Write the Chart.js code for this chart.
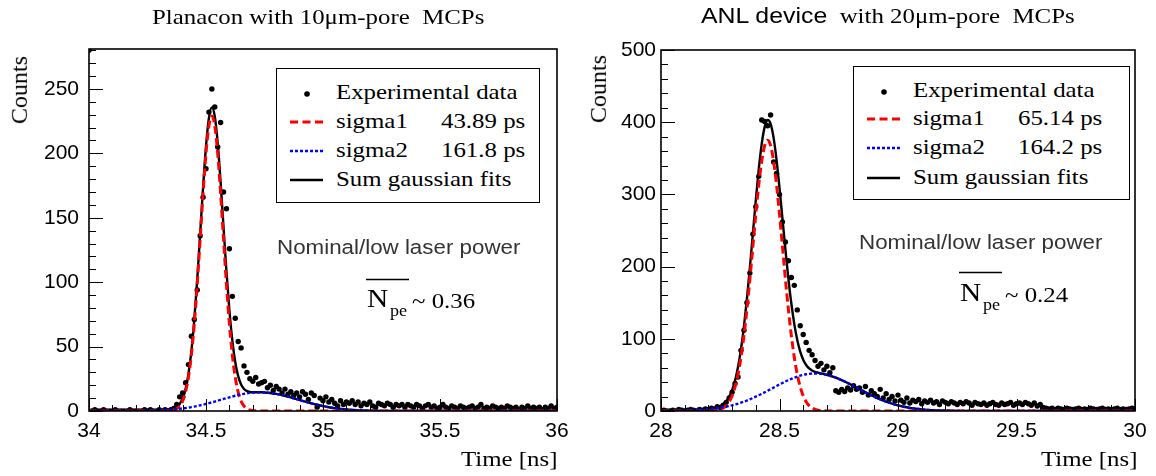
<!DOCTYPE html>
<html>
<head>
<meta charset="utf-8">
<title>Timing resolution: Planacon vs ANL device</title>
<script src="https://cdn.jsdelivr.net/npm/chart.js@4.4.1/dist/chart.umd.min.js"></script>
<style>
  html,body{margin:0;padding:0;background:#fff;}
  body{width:1156px;height:476px;position:relative;overflow:hidden;}
  canvas{position:absolute;top:0;}
  .txt{position:absolute;white-space:pre;line-height:1;color:#000;}
  .legend{position:absolute;border:1.5px solid #000;box-sizing:border-box;background:#fff;}
  svg.ov{position:absolute;left:0;top:0;pointer-events:none;}
</style>
</head>
<body>
<canvas id="left" width="580" height="476" style="left:0"></canvas>
<canvas id="right" width="576" height="476" style="left:580px"></canvas>
<script>
// ---------------- DATA ----------------
const binWidth = 0.0125;
const leftBinStart = 34.0;
const rightBinStart = 28.0;

const leftCounts = [
280,0,1,0,0,1,0,0,0,1,
0,0,0,0,1,0,0,0,0,1,
0,1,0,0,1,0,1,0,1,2,
5,11,14,22,36,58,71,94,136,166,
188,232,250,236,205,224,170,157,126,89,
72,54,49,35,30,25,23,26,21,22,
23,18,20,16,19,17,14,17,13,15,
12,14,11,15,13,9,14,12,3,10,
8,11,7,9,6,4,8,5,7,6,
8,5,7,4,6,5,7,4,3,6,
5,4,6,5,3,5,4,5,3,5,
4,3,5,4,2,4,5,3,4,2,
3,5,3,2,4,3,2,4,3,2,
3,4,2,3,5,2,3,2,4,3,
2,3,2,4,3,2,3,1,3,2,
4,2,3,2,3,1,3,2,4,2,3];

const rightCounts = [
0,1,0,0,1,0,2,1,0,1,
2,1,0,2,1,3,2,4,3,6,
5,8,12,18,26,38,47,84,112,150,
191,245,283,325,403,401,395,410,345,329,
300,262,234,208,185,174,140,118,106,95,
84,78,70,62,66,57,62,53,60,28,
26,30,27,32,29,35,30,32,26,34,
22,28,24,20,30,18,24,16,20,14,
22,15,12,18,11,15,13,16,10,14,
12,15,11,13,9,14,12,10,13,11,
9,12,10,13,11,8,12,10,9,11,
8,10,12,9,8,11,9,10,12,8,
10,11,9,12,10,8,11,7,9,5,
4,3,4,2,4,3,2,4,3,2,
3,4,2,3,2,4,3,2,3,4,
2,3,2,3,4,2,3,2,3,4,3];

const leftCurveTime = [34.00,34.05,34.10,34.15,34.20,34.25,34.30,
34.3125,34.325,34.3375,34.35,34.3625,34.375,34.3875,34.40,34.4125,34.425,34.4375,34.45,34.4625,34.475,34.4875,34.50,34.5125,34.525,34.5375,34.55,34.5625,34.575,34.5875,34.60,34.6125,34.625,34.6375,34.65,34.6625,34.675,34.6875,34.70,34.7125,34.725,34.7375,34.75,
34.775,34.80,34.825,34.85,34.875,34.90,34.925,34.95,34.975,35.00,35.025,35.05,35.075,35.10,35.125,35.15,35.175,35.20,35.225,35.25,35.275,35.30,35.325,35.35,35.375,35.40,35.425,35.45,35.475,35.50,35.525,35.55,35.575,35.60,35.625,35.65,35.675,35.70,35.725,35.75,35.775,35.80,35.825,35.85,35.875,35.90,35.925,35.95,35.975,36.00];

const leftSigma1Fit = [0,0,0,0,0,0,0,
0.01,0.04,0.11,0.30,0.74,1.7,3.8,7.7,14.7,26.1,43.5,67.6,98.1,133.1,168.8,200.0,221.4,229,221.4,200.0,168.8,133.1,98.1,67.6,43.5,26.1,14.7,7.7,3.8,1.7,0.74,0.30,0.11,0.04,0.01,0,
0,0,0,0,0,0,0,0,0,0,0,0,0,0,0,0,0,0,0,0,0,0,0,0,0,0,0,0,0,0,0,0,0,0,0,0,0,0,0,0,0,0,0,0,0,0,0,0,0,0];

const leftSigma2Fit = [0,0,0.01,0.03,0.08,0.21,0.49,
0.59,0.71,0.86,1.02,1.21,1.43,1.68,1.96,2.28,2.63,3.01,3.44,3.90,4.39,4.92,5.49,6.08,6.70,7.34,8.00,8.66,9.33,9.99,10.63,11.25,11.84,12.39,12.89,13.33,13.72,14.03,14.26,14.42,14.49,14.49,14.39,
13.97,13.25,12.29,11.13,9.85,8.53,7.21,5.96,4.82,3.80,2.93,2.21,1.63,1.17,0.83,0.57,0.38,0.25,0.16,0.10,0.06,0.04,0.02,0.01,0,0,0,0,0,0,0,0,0,0,0,0,0,0,0,0,0,0,0,0,0,0,0,0,0,0];

const leftSumFit = [0,0,0.01,0.03,0.08,0.21,0.49,
0.60,0.75,0.97,1.32,1.95,3.13,5.48,9.66,16.98,28.73,46.51,71.04,102.0,137.49,173.72,205.49,227.48,235.70,228.74,208.0,177.46,142.43,108.09,78.23,54.75,37.94,27.09,20.59,17.13,15.42,14.77,14.56,14.53,14.53,14.50,14.39,
13.97,13.25,12.29,11.13,9.85,8.53,7.21,5.96,4.82,3.80,2.93,2.21,1.63,1.17,0.83,0.57,0.38,0.25,0.16,0.10,0.06,0.04,0.02,0.01,0,0,0,0,0,0,0,0,0,0,0,0,0,0,0,0,0,0,0,0,0,0,0,0,0,0];

const rightCurveTime = [28.00,28.05,28.10,28.15,
28.20,28.2125,28.225,28.2375,28.25,28.2625,28.275,28.2875,28.30,28.3125,28.325,28.3375,28.35,28.3625,28.375,28.3875,28.40,28.4125,28.425,28.4375,28.45,28.4625,28.475,28.4875,28.50,28.5125,28.525,28.5375,28.55,28.5625,28.575,28.5875,28.60,28.6125,28.625,28.6375,28.65,28.6625,28.675,28.6875,28.70,28.7125,28.725,
28.75,28.775,28.80,28.825,28.85,28.875,28.90,28.925,28.95,28.975,29.00,29.025,29.05,29.075,29.10,29.125,29.15,29.175,29.20,29.225,29.25,29.275,29.30,29.325,29.35,29.375,29.40,29.425,29.45,29.475,29.50,29.525,29.55,29.575,29.60,29.625,29.65,29.675,29.70,29.725,29.75,29.775,29.80,29.825,29.85,29.875,29.90,29.925,29.95,29.975,30.00];

const rightSigma1Fit = [0,0,0,0,
0.1,0.3,0.6,1.2,2.2,4.2,7.4,12.8,21.0,33.3,50.7,74.2,104.3,140.7,182.5,227.4,272.3,313.2,346.2,367.6,375,367.6,346.2,313.2,272.3,227.4,182.5,140.7,104.3,74.2,50.7,33.3,21.0,12.8,7.4,4.2,2.2,1.2,0.6,0.3,0.1,0,0,
0,0,0,0,0,0,0,0,0,0,0,0,0,0,0,0,0,0,0,0,0,0,0,0,0,0,0,0,0,0,0,0,0,0,0,0,0,0,0,0,0,0,0,0,0,0,0,0,0,0,0];

const rightSigma2Fit = [0.08,0.2,0.49,1.10,
2.28,2.71,3.20,3.77,4.41,5.13,5.94,6.84,7.85,8.97,10.19,11.52,12.96,14.52,16.19,17.96,19.82,21.77,23.81,25.90,28.05,30.22,32.42,34.60,36.75,38.84,40.86,42.78,44.56,46.20,47.68,48.96,50.03,50.88,51.50,51.88,52.0,51.88,51.50,50.88,50.03,48.96,47.68,
44.56,40.86,36.75,32.42,28.05,23.81,19.82,16.19,12.96,10.19,7.85,5.94,4.41,3.20,2.28,1.60,1.10,0.74,0.49,0.32,0.20,0.12,0.08,0.05,0.03,0.02,0.01,0,0,0,0,0,0,0,0,0,0,0,0,0,0,0,0,0,0,0,0,0,0,0,0];

const rightSumFit = [0.08,0.2,0.49,1.10,
2.38,3.01,3.80,4.97,6.61,9.33,13.34,19.64,28.85,42.27,60.89,85.72,117.26,155.22,198.69,245.36,292.12,334.97,370.01,393.50,403.05,397.82,378.62,347.80,309.05,266.24,223.36,183.48,148.86,120.40,98.38,82.26,71.03,63.68,58.90,56.08,54.20,53.08,52.10,51.18,50.13,48.96,47.68,
44.56,40.86,36.75,32.42,28.05,23.81,19.82,16.19,12.96,10.19,7.85,5.94,4.41,3.20,2.28,1.60,1.10,0.74,0.49,0.32,0.20,0.12,0.08,0.05,0.03,0.02,0.01,0,0,0,0,0,0,0,0,0,0,0,0,0,0,0,0,0,0,0,0,0,0,0,0];

const leftXTicks = [34, 34.5, 35, 35.5, 36];
const rightXTicks = [28, 28.5, 29, 29.5, 30];
const leftYTicks = [0, 50, 100, 150, 200, 250];
const rightYTicks = [0, 100, 200, 300, 400, 500];

// ---------------- HELPERS ----------------
const SERIF = "'Liberation Serif','Times New Roman',serif";
const SANS = "'Liberation Sans',Arial,sans-serif";
const ASC = {serif:0.8375, sans:0.8465};
const STRETCH = 1.13;   // the reference figure is horizontally stretched

function addText(html, x, baseline, size, fam, opt) {
  opt = opt || {};
  const d = document.createElement('div');
  d.className = 'txt';
  d.innerHTML = html;
  d.style.fontFamily = fam === 'sans' ? SANS : SERIF;
  d.style.fontSize = size + 'px';
  if (opt.color) d.style.color = opt.color;
  const a = ASC[fam] * size;
  d.style.top = (baseline - a) + 'px';
  document.body.appendChild(d);
  if (opt.rotate) {
    d.style.left = x + 'px';
    d.style.transformOrigin = '0px ' + a + 'px';
    d.style.transform = 'rotate(-90deg)';
    return d;
  }
  const sx = opt.sx || 1;
  d.style.transformOrigin = '0px 0px';
  d.style.transform = 'scaleX(' + sx + ')';
  const w = d.getBoundingClientRect().width;
  let left = x;
  if (opt.align === 'center') left = x - w / 2;
  else if (opt.align === 'right') left = x - w;
  d.style.left = left + 'px';
  return d;
}

const svgNS = 'http://www.w3.org/2000/svg';
const ov = document.createElementNS(svgNS, 'svg');
ov.setAttribute('class', 'ov');
ov.setAttribute('width', 1156); ov.setAttribute('height', 476);
function svgLine(x1, y1, x2, y2, color, w, dash) {
  const l = document.createElementNS(svgNS, 'line');
  l.setAttribute('x1', x1); l.setAttribute('y1', y1);
  l.setAttribute('x2', x2); l.setAttribute('y2', y2);
  l.setAttribute('stroke', color); l.setAttribute('stroke-width', w);
  if (dash) l.setAttribute('stroke-dasharray', dash);
  ov.appendChild(l);
}
function svgDot(cx, cy, r) {
  const c = document.createElementNS(svgNS, 'circle');
  c.setAttribute('cx', cx); c.setAttribute('cy', cy); c.setAttribute('r', r);
  c.setAttribute('fill', '#000');
  ov.appendChild(c);
}

// frame + inside ticks (ROOT style) drawn through the chart scales
const frameTicks = {
  id: 'frameTicks',
  afterDatasetsDraw(chart, args, o) {
    const {ctx, chartArea: a} = chart;
    const x = chart.scales.x, y = chart.scales.y;
    ctx.save();
    ctx.strokeStyle = '#000';
    ctx.lineWidth = 1;
    ctx.beginPath();
    const nx = Math.round((x.max - x.min) / o.xMinor);
    for (let i = 0; i <= nx; i++) {
      const v = x.min + i * o.xMinor;
      const major = Math.abs(v / o.xMajor - Math.round(v / o.xMajor)) < 1e-6;
      const px = Math.round(x.getPixelForValue(v)) + 0.5;
      ctx.moveTo(px, a.bottom);
      ctx.lineTo(px, a.bottom - (major ? 12 : 6));
    }
    const ny = Math.floor((y.max - y.min) / o.yMinor + 1e-6);
    for (let i = 0; i <= ny; i++) {
      const v = y.min + i * o.yMinor;
      const major = Math.abs(v / o.yMajor - Math.round(v / o.yMajor)) < 1e-6;
      const py = Math.round(y.getPixelForValue(v)) + 0.5;
      ctx.moveTo(a.left, py);
      ctx.lineTo(a.left + (major ? 14 : 7), py);
    }
    ctx.stroke();
    ctx.lineWidth = 1.6;
    ctx.strokeRect(a.left, a.top, a.right - a.left, a.bottom - a.top);
    ctx.restore();
  }
};

function pts(xs, ys) { return xs.map((t, i) => ({x: t, y: ys[i]})); }
function binPts(start, counts) { return counts.map((c, i) => ({x: start + i * binWidth, y: c})); }

function makeChart(id, c) {
  const canvas = document.getElementById(id);
  return new Chart(canvas, {
    type: 'scatter',
    data: {datasets: [
      {label: 'Experimental data', data: binPts(c.binStart, c.counts), showLine: false,
       pointRadius: 2.7, pointBackgroundColor: '#000', pointBorderWidth: 0, order: 4},
      {label: 'Sum gaussian fits', data: pts(c.time, c.sum), showLine: true, borderColor: '#000',
       borderWidth: 2.4, pointRadius: 0, cubicInterpolationMode: 'monotone', order: 3},
      {label: 'sigma1', data: pts(c.time, c.s1), showLine: true, borderColor: '#ff0000',
       borderWidth: 3, borderDash: [8, 4], pointRadius: 0, cubicInterpolationMode: 'monotone', order: 2},
      {label: 'sigma2', data: pts(c.time, c.s2), showLine: true, borderColor: '#0000ff',
       borderWidth: 2.4, borderDash: [3, 2], pointRadius: 0, cubicInterpolationMode: 'monotone', order: 1}
    ]},
    options: {
      responsive: false, animation: false, devicePixelRatio: 1,
      layout: {padding: {left: 0, right: c.padRight, top: c.padTop, bottom: c.padBottom}},
      plugins: {legend: {display: false}, tooltip: {enabled: false},
                frameTicks: {xMinor: 0.1, xMajor: 0.5, yMinor: c.yMinor, yMajor: c.yStep}},
      scales: {
        x: {type: 'linear', min: c.xTicks[0], max: c.xTicks[c.xTicks.length - 1],
            grid: {display: false, drawTicks: false}, border: {display: false},
            afterBuildTicks: s => { s.ticks = c.xTicks.map(v => ({value: v})); },
            ticks: {padding: 8, color: '#000', font: {family: SANS, size: 21}, maxRotation: 0, autoSkip: false,
                    callback: v => String(v)},
            afterFit: s => { s.height = c.xAxisH; }},
        y: {type: 'linear', min: 0, max: c.yMax,
            grid: {display: false, drawTicks: false}, border: {display: false},
            afterBuildTicks: s => { s.ticks = c.yTicks.map(v => ({value: v})); },
            ticks: {padding: c.yPad, color: '#000', font: {family: SANS, size: 21}, callback: v => String(v)},
            afterFit: s => { s.width = c.yAxisW; }}
      }
    },
    plugins: [frameTicks]
  });
}

// left: chart area x 89..557, y 49..411
makeChart('left', {binStart: leftBinStart, counts: leftCounts, time: leftCurveTime,
  sum: leftSumFit, s1: leftSigma1Fit, s2: leftSigma2Fit, xTicks: leftXTicks, yTicks: leftYTicks,
  yMax: 281, yStep: 50, yMinor: 10, yPad: 10,
  padTop: 49, padRight: 580 - 557, padBottom: 476 - 411 - 40, xAxisH: 40, yAxisW: 89});
// right: chart area x 661..1135 (canvas 81..555), y 50..411
makeChart('right', {binStart: rightBinStart, counts: rightCounts, time: rightCurveTime,
  sum: rightSumFit, s1: rightSigma1Fit, s2: rightSigma2Fit, xTicks: rightXTicks, yTicks: rightYTicks,
  yMax: 500, yStep: 100, yMinor: 20, yPad: 5,
  padTop: 50, padRight: 576 - 555, padBottom: 476 - 411 - 40, xAxisH: 40, yAxisW: 81});

// ---------------- TEXT ----------------
addText('Planacon with 10μm-pore  MCPs', 318, 24, 22, 'serif', {align: 'center', sx: STRETCH});
addText('<span style="font-family:' + SANS.replace(/"/g, '') + '">ANL device</span>  with 20μm-pore  MCPs', 888, 23, 22, 'serif', {align: 'center', sx: STRETCH});
addText('Counts', 27, 124, 24, 'serif', {rotate: true});
addText('Counts', 606, 123, 24, 'serif', {rotate: true});
addText('Time [ns]', 557, 466, 22, 'serif', {align: 'right', sx: STRETCH});
addText('Time [ns]', 1137, 466, 22, 'serif', {align: 'right', sx: STRETCH});

function legend(bx, by, bw, bh, rows, v1, v2) {
  const d = document.createElement('div');
  d.className = 'legend';
  d.style.left = bx + 'px'; d.style.top = by + 'px';
  d.style.width = bw + 'px'; d.style.height = bh + 'px';
  document.body.appendChild(d);
  const sx = bx + 31, tx = bx + 60, vx = bx + 165;
  const r = rows.map(v => by + v);
  const o = {sx: STRETCH};
  svgDot(sx, r[0] - 5, 2.8);
  addText('Experimental data', tx, r[0], 22, 'serif', o);
  svgLine(bx + 14, r[1] - 6, bx + 47, r[1] - 6, '#ff0000', 3, '8 4.5');
  addText('sigma1', tx, r[1], 22, 'serif', o);
  addText(v1, vx, r[1], 22, 'serif', o);
  svgLine(bx + 14, r[2] - 6, bx + 47, r[2] - 6, '#0000ff', 2.5, '3 2');
  addText('sigma2', tx, r[2], 22, 'serif', o);
  addText(v2, vx, r[2], 22, 'serif', o);
  svgLine(bx + 14, r[3] - 6, bx + 47, r[3] - 6, '#000', 2.5);
  addText('Sum gaussian fits', tx, r[3], 22, 'serif', o);
}
legend(276, 68, 264, 135, [31, 60, 89, 118], '43.89 ps', '161.8 ps');
legend(853, 66, 277, 134, [31, 59, 88, 118], '65.14 ps', '164.2 ps');

function npe(x, base, val, barY) {
  addText('N', x, base, 26, 'serif', {sx: STRETCH});
  addText('pe', x + 23, base + 8, 16, 'serif', {sx: STRETCH});
  addText('~ ' + val, x + 45, base, 22, 'serif', {sx: STRETCH});
  svgLine(x - 1, barY, x + 42, barY, '#000', 1.5);
}
addText('Nominal/low laser power', 277, 254.5, 20.5, 'sans', {color: '#333', sx: 1.09});
addText('Nominal/low laser power', 859, 249.5, 20.5, 'sans', {color: '#333', sx: 1.09});
npe(367, 308, '0.36', 279.5);
npe(960, 302, '0.24', 272.5);

document.body.appendChild(ov);
</script>
</body>
</html>
